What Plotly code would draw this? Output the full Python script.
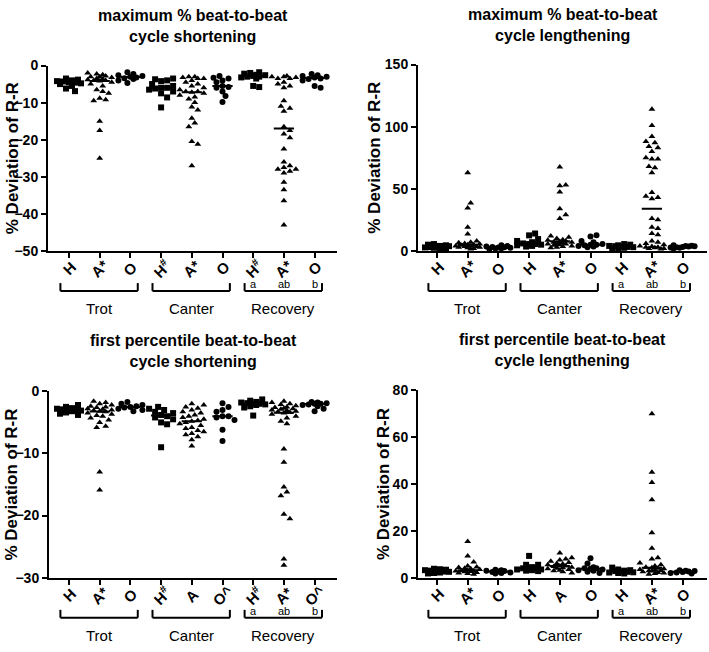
import numpy as np
import plotly.graph_objects as go

# ---------------- data ----------------
gaits = ["Trot", "Canter", "Recovery"]
recovery_letters = ["a", "ab", "b"]

labels_max_short = ["H", "A*", "O", "H#", "A*", "O", "H#", "A*", "O"]
labels_max_long = ["H", "A*", "O", "H", "A*", "O", "H", "A*", "O"]
labels_pct_short = ["H", "A*", "O", "H#", "A", "O^", "H#", "A*", "O^"]
labels_pct_long = ["H", "A*", "O", "H", "A", "O", "H", "A*", "O"]

# groups: Trot H, Trot A, Trot O, Canter H, Canter A, Canter O, Recovery H, Recovery A, Recovery O
max_short = [
    [-3.5, -3.8, -4, -4.2, -4.3, -4.5, -4.6, -4.8, -5, -5.5, -6.2, -6.9],
    [-2, -2.3, -2.5, -2.8, -3, -3, -3.2, -3.5, -3.6, -3.8, -4, -4, -4.2, -4.5, -5, -5.5,
     -6.5, -7, -7.5, -8.8, -9.2, -9.5, -15, -17.5, -25],
    [-1.8, -2.3, -2.6, -2.8, -3, -3.2, -3.4, -3.6, -4, -4.7],
    [-3.5, -3.7, -4, -4.2, -5, -5.5, -6, -6, -6.2, -6.5, -7, -7.5, -8.6, -11.3],
    [-3, -3, -3.2, -3.5, -3.5, -4, -4.5, -5, -5.5, -6, -6.5, -7, -7, -7.2, -7.5, -8, -8.5,
     -9, -10, -11.2, -12, -14.2, -15.5, -16.5, -20.5, -21.2, -27],
    [-2.8, -3.3, -3.5, -4, -4.5, -5.5, -5.8, -6, -7, -8.2, -9.8],
    [-1.8, -2, -2.2, -2.5, -2.6, -2.8, -3, -3, -3.2, -3.5, -5.5, -5.8],
    [-2.8, -3, -3, -3.2, -3.5, -3.5, -4.5, -5, -5.5, -6, -9.5, -11, -11.5, -12.3, -16.5,
     -17.5, -18.5, -19.5, -22.5, -26, -27, -27.5, -28, -28, -28.5, -29, -31.5, -33.5, -36.5, -43],
    [-2.3, -2.6, -2.8, -3, -3.2, -3.5, -3.6, -4, -5.5, -6],
]

max_long = [
    [1.5, 2, 2.5, 2.8, 3, 3.2, 3.5, 3.8, 4, 4.5, 5, 5.5],
    [1.5, 2, 2.5, 3, 3, 3.5, 3.5, 4, 4, 4.5, 5, 5, 5.5, 6, 6.5, 7, 8, 13.5, 19, 34.5, 38.5, 63],
    [1.5, 2, 2.2, 2.5, 2.8, 3, 3.2, 3.5, 4, 4.5],
    [3.5, 4, 4.5, 5, 5.5, 5.5, 6, 7, 8, 9.5, 12.5, 14],
    [2.5, 3, 3.5, 4, 4.5, 5, 5.5, 5.5, 6, 6.5, 7, 7, 7.5, 8, 8.5, 9, 10, 11, 12, 26, 29, 34,
     47.5, 52.5, 53, 67.5],
    [3, 3.5, 4, 4.5, 5, 5, 5.5, 7, 8, 11.5, 12.5],
    [1.5, 2, 2.5, 3, 3.2, 3.5, 3.8, 4, 4.5, 5, 5.5],
    [1.5, 2, 2, 2.5, 3, 3, 3.5, 4, 5, 6, 7, 8, 13, 14, 18, 19, 25, 26, 42, 43, 44, 47, 63,
     67, 68, 74, 74, 75, 80, 83, 84, 87, 88, 92, 101, 114],
    [2, 2.5, 2.8, 3, 3.2, 3.5, 3.8, 4, 4.2, 4.5],
]

pct_short = [
    [-2.2, -2.5, -2.7, -2.8, -2.9, -3, -3, -3.1, -3.2, -3.4, -3.6, -3.8],
    [-1.6, -1.8, -2, -2.2, -2.4, -2.5, -2.6, -2.8, -2.9, -3, -3.1, -3.2, -3.3, -3.5, -3.7,
     -3.9, -4, -4.3, -4.6, -5, -5.6, -5.8, -13, -15.9],
    [-1.7, -2, -2.2, -2.4, -2.5, -2.6, -2.8, -3, -3.2],
    [-2.5, -2.8, -3, -3.3, -3.5, -3.8, -4, -4.2, -4.5, -5, -5.3, -9],
    [-2, -2.2, -2.5, -2.7, -3, -3.3, -3.5, -3.8, -4, -4.2, -4.5, -4.7, -4.8, -5, -5.2, -5.5,
     -5.8, -6, -6.3, -6.5, -6.8, -7, -7.3, -7.8, -8.8],
    [-1.9, -2.5, -3, -3.3, -4, -4, -4.2, -4.6, -6.2, -8],
    [-1.3, -1.5, -1.7, -1.8, -1.9, -2, -2, -2.1, -2.2, -2.4, -2.6, -3.9],
    [-1.6, -1.8, -2, -2.1, -2.3, -2.5, -2.6, -2.7, -2.8, -2.9, -3, -3.1, -3.2, -3.3, -3.4,
     -3.5, -3.7, -4, -4.3, -4.8, -5.2, -9.3, -11.4, -15.4, -16.2, -16.8, -19.8, -20.5, -27, -28],
    [-1.7, -1.8, -1.9, -2, -2, -2.1, -2.2, -2.4, -2.8, -3.2],
]

pct_long = [
    [1.8, 2, 2.2, 2.5, 2.6, 2.8, 3, 3.2, 3.4, 3.6, 3.8],
    [1.5, 1.8, 2, 2.2, 2.5, 2.6, 2.8, 3, 3, 3.2, 3.5, 3.8, 4, 4.3, 4.6, 5, 6.7, 9.3, 15.4],
    [1.8, 2, 2.2, 2.4, 2.6, 2.8, 3, 3.2, 3.4],
    [2.8, 3, 3.2, 3.5, 3.5, 3.8, 4, 4, 4.5, 5.5, 5.5, 9.3],
    [2, 2.5, 3, 3.2, 3.5, 3.8, 4, 4.2, 4.5, 4.8, 5, 5, 5.5, 5.8, 6, 6.5, 7, 7.5, 8, 8.5, 10.5],
    [2, 2.5, 3, 3.2, 3.5, 3.8, 4, 4, 4.5, 6, 8.3],
    [1.8, 2, 2.2, 2.3, 2.5, 2.6, 2.8, 3, 3.2, 3.5, 4.3],
    [1.5, 1.8, 2, 2.2, 2.5, 2.8, 3, 3, 3.2, 3.5, 3.8, 4, 4.2, 4.5, 5, 5.5, 6.3, 8, 8.5, 12.6,
     19.2, 33.3, 40.6, 45, 70],
    [1.8, 2, 2.2, 2.4, 2.6, 2.8, 3, 3.2],
]

titles = [
    "maximum % beat-to-beat<br>cycle shortening",
    "maximum % beat-to-beat<br>cycle lengthening",
    "first percentile beat-to-beat<br>cycle shortening",
    "first percentile beat-to-beat<br>cycle lengthening",
]

# ---------------- layout geometry (window pixels) ----------------
W, H = 709, 652
FONT = "Arial, 'Liberation Sans', Helvetica, sans-serif"
symbols = ["square", "triangle-up", "circle"]
msizes = [6, 6, 6]
HALF_WIDTH_PX = 12
STEP_PX = 30.7  # distance between category ticks

panels = [
    dict(data=max_short, labels=labels_max_short, x0=48, tick0=69, xend=337, ytop=59, ybot=249,
         yr=[-50, 0], dtick=10, ytitle_x=12),
    dict(data=max_long, labels=labels_max_long, x0=418, tick0=437, xend=707, ytop=58, ybot=249,
         yr=[0, 150], dtick=50, ytitle_x=375),
    dict(data=pct_short, labels=labels_pct_short, x0=49, tick0=69, xend=337, ytop=393, ybot=584,
         yr=[-30, 0], dtick=10, ytitle_x=12),
    dict(data=pct_long, labels=labels_pct_long, x0=418, tick0=437, xend=707, ytop=392, ybot=584,
         yr=[0, 80], dtick=20, ytitle_x=383),
]


def swarm(vals, xpx, ypx, size):
    vals = np.asarray(vals, float)
    order = np.argsort(np.abs(vals - np.median(vals)), kind="stable")
    placed = []
    offs = np.zeros(len(vals))
    step = size * 0.5
    cands = [0.0]
    k = 1
    while k * step <= HALF_WIDTH_PX:
        cands += [k * step, -k * step]
        k += 1
    for i in order:
        py = vals[i] * ypx
        best, bestd = 0.0, -1.0
        for c in cands:
            d = min([np.hypot(c - qx, py - qy) for qx, qy in placed] or [1e9])
            if d >= size * 0.9:
                best = c
                break
            if d > bestd + 0.5:
                best, bestd = c, d
        placed.append((best, py))
        offs[i] = best / xpx
    return offs


fig = go.Figure()
annotations = []
shapes = []
layout_axes = {}

for p, pan in enumerate(panels):
    n = p + 1
    xa = "x" if n == 1 else f"x{n}"
    ya = "y" if n == 1 else f"y{n}"
    ytop, ybot = pan["ytop"], pan["ybot"]
    xr = [-(pan["tick0"] - pan["x0"]) / STEP_PX, (pan["xend"] - pan["tick0"]) / STEP_PX]
    xdom = [pan["x0"] / W, pan["xend"] / W]
    ydom = [1 - ybot / H, 1 - ytop / H]
    ypx = (ybot - ytop) / (pan["yr"][1] - pan["yr"][0])
    for g, vals in enumerate(pan["data"]):
        sym = symbols[g % 3]
        sz = msizes[g % 3]
        offs = swarm(vals, STEP_PX, ypx, sz)
        fig.add_trace(go.Scatter(
            x=g + offs, y=vals, mode="markers", xaxis=xa, yaxis=ya,
            marker=dict(symbol=sym, size=sz, color="black", line=dict(width=0)),
            cliponaxis=False, showlegend=False, hoverinfo="y"))
        med = float(np.median(vals))
        fig.add_trace(go.Scatter(
            x=[g - 0.33, g + 0.33], y=[med, med], mode="lines", xaxis=xa, yaxis=ya,
            line=dict(color="black", width=2), cliponaxis=False,
            showlegend=False, hoverinfo="skip"))

    key = "" if n == 1 else str(n)
    layout_axes[f"xaxis{key}"] = dict(
        domain=xdom, range=xr, anchor=ya, showgrid=False, zeroline=False,
        showline=True, linecolor="black", linewidth=2, ticks="outside", ticklen=5,
        tickwidth=1.5, tickcolor="black", tickvals=list(range(9)), showticklabels=False,
        fixedrange=True)
    layout_axes[f"yaxis{key}"] = dict(
        domain=ydom, range=pan["yr"], anchor=xa, showgrid=False, zeroline=False,
        showline=True, linecolor="black", linewidth=2, ticks="outside", ticklen=5,
        tickwidth=1.5, tickcolor="black", tickmode="linear", tick0=0, dtick=pan["dtick"],
        tickfont=dict(family=FONT, size=14, color="black", weight="bold"),
        fixedrange=True)

    base = ybot
    # category labels
    for g, lab in enumerate(pan["labels"]):
        txt = lab
        if lab.endswith("#"):
            txt = lab[0] + "<sup>#</sup>"
        annotations.append(dict(
            x=g, xref=xa, y=1 - (base + 18) / H, yref="paper", text=f"<b>{txt}</b>",
            textangle=-45, showarrow=False, xanchor="center", yanchor="middle",
            font=dict(family=FONT, size=15, color="black")))
    for j, let in enumerate(recovery_letters):
        annotations.append(dict(
            x=6 + j, xref=xa, y=1 - (base + 34) / H, yref="paper", text=let,
            showarrow=False, xanchor="center", yanchor="middle",
            font=dict(family=FONT, size=11, color="black")))
    # brackets + gait labels
    for j, gname in enumerate(gaits):
        xl, xr_ = 3 * j - 0.28, 3 * j + 2 + 0.24
        yb = 1 - (base + 41) / H
        yt = 1 - (base + 33) / H
        shapes.append(dict(type="line", xref=xa, yref="paper", x0=xl, x1=xr_, y0=yb, y1=yb,
                           line=dict(color="black", width=2)))
        for xx in (xl, xr_):
            shapes.append(dict(type="line", xref=xa, yref="paper", x0=xx, x1=xx, y0=yb, y1=yt,
                               line=dict(color="black", width=2)))
        annotations.append(dict(
            x=(xl + xr_) / 2, xref=xa, y=1 - (base + 59) / H, yref="paper", text=gname,
            showarrow=False, xanchor="center", yanchor="middle",
            font=dict(family=FONT, size=15, color="black")))
    # panel title
    annotations.append(dict(
        x=(xdom[0] + xdom[1]) / 2, xref="paper", y=1 - (ytop - 41) / H, yref="paper",
        text=f"<b>{titles[p]}</b>", showarrow=False, xanchor="center", yanchor="middle",
        font=dict(family=FONT, size=16, color="black")))
    # y-axis title
    annotations.append(dict(
        x=pan["ytitle_x"] / W, xref="paper", y=1 - (ytop + ybot) / 2 / H,
        yref="paper", text="<b>% Deviation of R-R</b>", textangle=-90, showarrow=False,
        xanchor="center", yanchor="middle", font=dict(family=FONT, size=17, color="black")))

fig.update_layout(
    width=W, height=H, margin=dict(l=0, r=0, t=0, b=0),
    paper_bgcolor="white", plot_bgcolor="white", showlegend=False,
    annotations=annotations, shapes=shapes, **layout_axes)

fig.write_html(
    "out.html",
    config={"displayModeBar": False},
    post_script="document.body.style.margin='0';document.body.style.padding='0';"
                "document.documentElement.style.overflow='hidden';",
)
